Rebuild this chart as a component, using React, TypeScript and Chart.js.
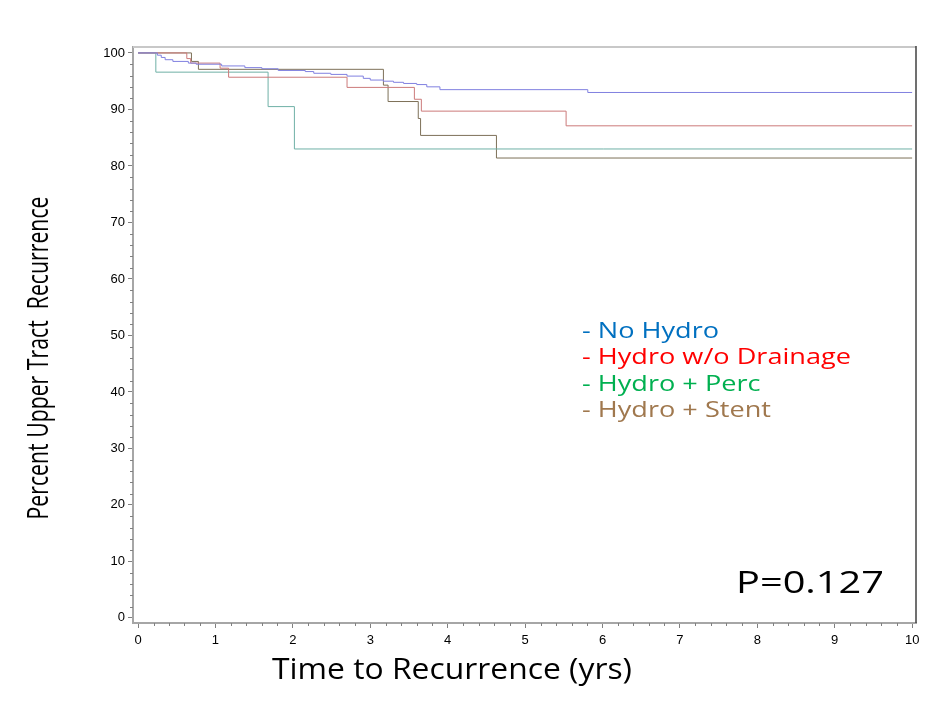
import { useEffect, useRef } from "react";
import { Chart, registerables } from "chart.js";

Chart.register(...registerables);

// Kaplan-Meier style step curves: time (yrs) and percent free of upper tract recurrence
const noHydroTimes = [0, 0.25, 0.3, 0.35, 0.45, 0.65, 0.75, 1.08, 1.38, 1.6, 1.81, 2.16, 2.27, 2.49, 2.7, 2.91, 3.0, 3.17, 3.3, 3.43, 3.6, 3.73, 3.9, 5.81, 10];
const noHydroPct = [100, 99.6, 99.2, 98.8, 98.5, 98.2, 98.0, 97.7, 97.4, 97.2, 96.9, 96.7, 96.4, 96.2, 95.9, 95.5, 95.2, 95.0, 94.8, 94.6, 94.4, 94.0, 93.5, 93.0, 93.0];

const noDrainTimes = [0, 0.63, 0.68, 1.06, 1.17, 2.7, 3.57, 3.66, 5.53, 10];
const noDrainPct = [100, 99.0, 98.2, 97.3, 95.7, 93.9, 91.8, 89.7, 87.1, 87.1];

const percTimes = [0, 0.23, 1.68, 2.02, 10];
const percPct = [100, 96.6, 90.5, 83.0, 83.0];

const stentTimes = [0, 0.69, 0.78, 3.17, 3.23, 3.62, 3.65, 4.63, 10];
const stentPct = [100, 98.5, 97.1, 94.3, 91.4, 88.4, 85.4, 81.4, 81.4];

const seriesNames = ["No Hydro", "Hydro w/o Drainage", "Hydro + Perc", "Hydro + Stent"];
const lineColors = ["#8080e0", "#cc7a7a", "#6fb0a6", "#7d7058"];
const legendColors = ["#0070c0", "#ff0000", "#00b050", "#a0784e"];

const xTickValues = [0, 1, 2, 3, 4, 5, 6, 7, 8, 9, 10];
const yTickValues = [0, 10, 20, 30, 40, 50, 60, 70, 80, 90, 100];

const xTitle = "Time to Recurrence (yrs)";
const yTitle = "Percent Upper Tract  Recurrence";
const pValueText = "P=0.127";

const toPoints = (t: number[], v: number[]) => t.map((x, i) => ({ x, y: v[i] }));

// Draws a line of text stretched horizontally by scaleX
function fitText(
  ctx: CanvasRenderingContext2D,
  text: string,
  x: number,
  y: number,
  font: string,
  scaleX: number,
  color: string,
  align: CanvasTextAlign = "left"
) {
  ctx.save();
  ctx.font = font;
  ctx.fillStyle = color;
  ctx.textAlign = align;
  ctx.textBaseline = "middle";
  ctx.translate(x, y);
  ctx.scale(scaleX, 1);
  ctx.fillText(text, 0, 0);
  ctx.restore();
}

function measure(ctx: CanvasRenderingContext2D, text: string, font: string) {
  ctx.save();
  ctx.font = font;
  const w = ctx.measureText(text).width;
  ctx.restore();
  return w;
}

const decorPlugin = {
  id: "decor",
  afterDraw(chart: any) {
    const { ctx, chartArea } = chart;
    const { left, right, top, bottom } = chartArea;
    const xs = chart.scales.x;
    const ys = chart.scales.y;

    // frame: top and right edges
    ctx.save();
    ctx.lineWidth = 2;
    ctx.strokeStyle = "#c8c8c8";
    ctx.beginPath();
    ctx.moveTo(left, top);
    ctx.lineTo(right, top);
    ctx.stroke();
    ctx.lineWidth = 1.5;
    ctx.strokeStyle = "#404040";
    ctx.beginPath();
    ctx.moveTo(right, top - 1);
    ctx.lineTo(right, bottom);
    ctx.stroke();

    // minor ticks
    ctx.lineWidth = 1;
    ctx.strokeStyle = "#808080";
    ctx.beginPath();
    for (let v = 2; v < 100; v += 2) {
      if (v % 10 === 0) continue;
      const py = Math.round(ys.getPixelForValue(v)) + 0.5;
      ctx.moveTo(left - 3, py);
      ctx.lineTo(left, py);
    }
    for (let i = 1; i < 50; i++) {
      if (i % 5 === 0) continue;
      const px = Math.round(xs.getPixelForValue(i / 5)) + 0.5;
      ctx.moveTo(px, bottom);
      ctx.lineTo(px, bottom + 3);
    }
    ctx.stroke();
    ctx.restore();

    // axis titles
    const xFont = "29px 'Open Sans', sans-serif";
    fitText(ctx, xTitle, 452, 671, xFont, 360 / measure(ctx, xTitle, xFont), "#000", "center");

    const yFont = "29px 'Open Sans', sans-serif";
    const yw = measure(ctx, yTitle, yFont);
    ctx.save();
    ctx.font = yFont;
    ctx.translate(40, 358);
    ctx.rotate(-Math.PI / 2);
    ctx.scale(323 / yw, 1);
    ctx.fillStyle = "#000";
    ctx.textAlign = "center";
    ctx.textBaseline = "middle";
    ctx.fillText(yTitle, 0, 0);
    ctx.restore();

    // legend text
    const legendFont = "21px 'Open Sans', sans-serif";
    const legendScale = 269 / measure(ctx, "- " + seriesNames[1], legendFont);
    seriesNames.forEach((name, i) => {
      fitText(ctx, "- " + name, 582, 332 + i * 26.5, legendFont, legendScale, legendColors[i]);
    });

    // p-value
    const pFont = "31px 'Open Sans', sans-serif";
    fitText(ctx, pValueText, 736, 584, pFont, 148 / measure(ctx, pValueText, pFont), "#000");
  },
};

export default function App() {
  const canvasRef = useRef<HTMLCanvasElement | null>(null);

  useEffect(() => {
    if (!canvasRef.current) return;
    const series = [
      toPoints(noHydroTimes, noHydroPct),
      toPoints(noDrainTimes, noDrainPct),
      toPoints(percTimes, percPct),
      toPoints(stentTimes, stentPct),
    ];
    const chart = new Chart(canvasRef.current, {
      type: "line",
      data: {
        datasets: series.map((data, i) => ({
          label: seriesNames[i],
          data,
          borderColor: lineColors[i],
          borderWidth: 1,
          pointRadius: 0,
          stepped: "before" as const,
          fill: false,
        })),
      },
      options: {
        animation: false,
        responsive: false,
        layout: { padding: { left: 0, top: 47, right: 32, bottom: 0 } },
        plugins: {
          legend: { display: false },
          tooltip: { enabled: false },
        },
        scales: {
          x: {
            type: "linear",
            min: -0.065,
            max: 10.05,
            afterFit: (s: any) => {
              s.height = 101;
            },
            afterBuildTicks: (s: any) => {
              s.ticks = xTickValues.map((value) => ({ value }));
            },
            ticks: {
              color: "#000",
              padding: 5,
              maxRotation: 0,
              font: { family: "'Liberation Sans', Arial, sans-serif", size: 13 },
            },
            grid: {
              drawOnChartArea: false,
              drawTicks: true,
              tickLength: 5,
              tickColor: "#808080",
            },
            border: { display: true, color: "#a6a6a6", width: 2 },
          },
          y: {
            type: "linear",
            min: -0.9,
            max: 101.05,
            afterFit: (s: any) => {
              s.width = 133;
            },
            afterBuildTicks: (s: any) => {
              s.ticks = yTickValues.map((value) => ({ value }));
            },
            ticks: {
              color: "#000",
              padding: 3,
              font: { family: "'Liberation Sans', Arial, sans-serif", size: 13 },
            },
            grid: {
              drawOnChartArea: false,
              drawTicks: true,
              tickLength: 5,
              tickColor: "#808080",
            },
            border: { display: true, color: "#a6a6a6", width: 2 },
          },
        },
      },
      plugins: [decorPlugin],
    });
    return () => chart.destroy();
  }, []);

  return (
    <div style={{ position: "fixed", left: 0, top: 0, width: 948, height: 724, background: "#fff" }}>
      <canvas ref={canvasRef} width={948} height={724} style={{ display: "block" }} />
    </div>
  );
}
